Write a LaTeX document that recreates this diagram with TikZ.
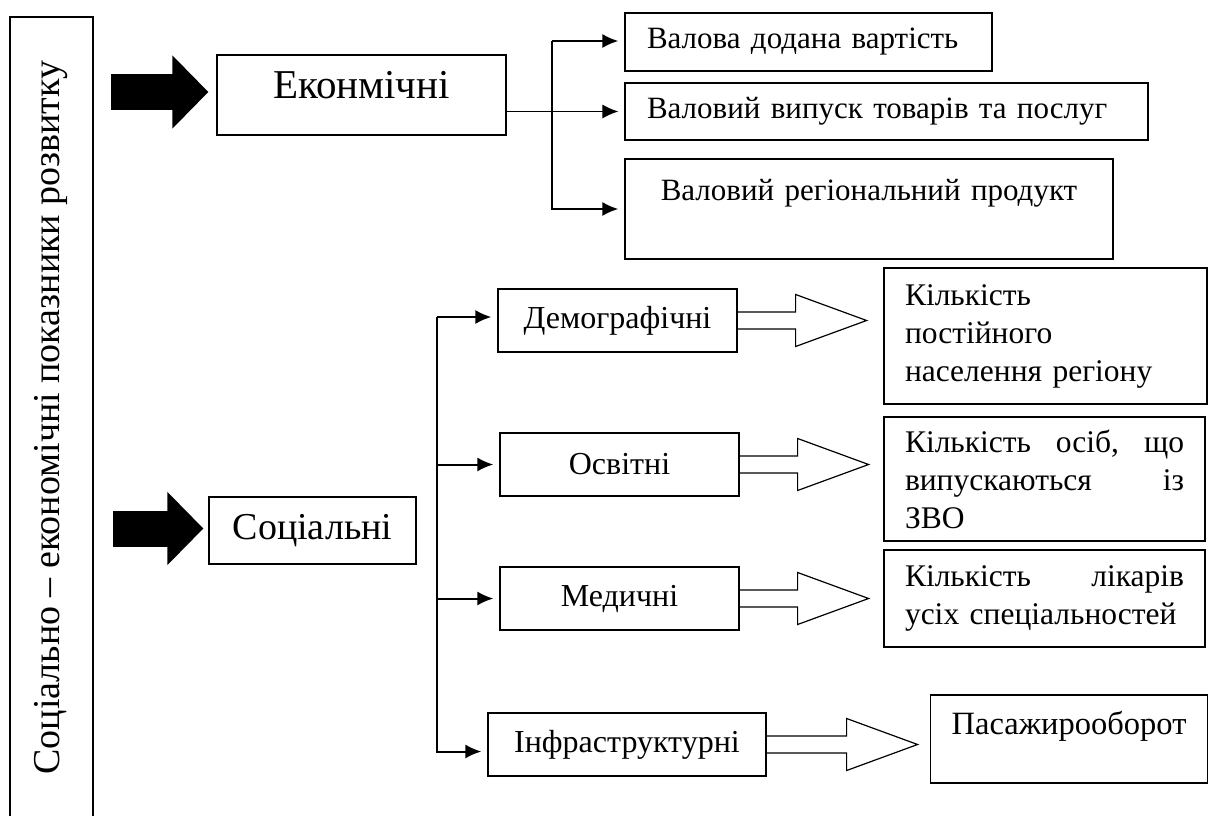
\documentclass[tikz,border=0pt]{standalone}
\usepackage{fontspec}
\setmainfont{Liberation Serif}
\usetikzlibrary{positioning,arrows.meta}

\begin{document}
\begin{tikzpicture}[x=1pt, y=-1pt,
  nodes = {draw, line width=1.2pt, inner sep=0pt},
  title/.style = {rotate=90, minimum width=801pt, minimum height=83pt,
    font=\fontsize{38}{44}\selectfont},
  sector/.style = {font=\fontsize{38}{44}\selectfont},
  indic/.style = {font=\fontsize{31}{38}\selectfont, inner xsep=22pt,
    align=left},
  group/.style = {minimum width=239pt, minimum height=63pt,
    font=\fontsize{32}{38}\selectfont},
  result/.style = {line width=1.6pt, font=\fontsize{31.5}{38}\selectfont,
    inner xsep=21pt, align=left},
  arr/.style = {line width=2pt, -{Latex[length=16pt, width=14pt]},
    shorten >=6pt},
  bigarr/.style = {line width=36pt, -{Triangle[length=36pt, width=71pt]}}
  ]
  \useasboundingbox (0,0) rectangle (1208,816);

  \node (title) [title] at (51.5,417.5)
    {Соціально – економічні показники розвитку};

  % economic block
  \node (econ) [sector, font=\fontsize{41}{46}\selectfont, text depth=20pt,
    minimum width=289pt, minimum height=80pt]
    at (361.5,95) {Еконмічні};
  \node (b1) [indic, text width=323pt, minimum height=58pt]
    at (808.5,42) {Валова додана вартість};
  \node (b2) [indic, text width=479pt, minimum height=57pt]
    at (886.5,111.5) {Валовий випуск товарів та послуг};
  \node (b3) [indic, text width=444pt, align=center, minimum height=100pt]
    at (869,209) {Валовий регіональний продукт\\ \mbox{}};

  \coordinate (etail) at (111,92);
  \draw[bigarr, shorten >=8pt] (etail) -- (etail -| econ.west);

  \coordinate (ebus) at (552,41);
  \draw[arr] (ebus) -- (ebus -| b1.west);
  \draw[arr] (ebus) |- (b3.west);
  \draw[arr, line width=1.2pt] (econ.east |- b2.west) -- (b2.west);

  % social block
  \node (soc) [sector, minimum width=207pt, minimum height=67pt]
    at (312.5,530.5) {Соціальні};
  \node (demo) [group] at (617.5,320.5) {Демографічні};
  \node (osv) [group] at (619.5,464.5) {Освітні};
  \node (med) [group] at (619.5,598.5) {Медичні};
  \node (infra) [group, minimum width=278pt] at (627,744.5) {Інфраструктурні};

  \node (k1) [result, text width=281pt, minimum height=136pt]
    at (1045.5,336) {Кількість\\ постійного\\ населення регіону};
  \node (k2) [result, text width=279pt, minimum height=124pt]
    at (1044.5,479) {Кількість\hfill осіб,\hfill що\\ випускаються\hfill із\\ ЗВО};
  \node (k3) [result, text width=279pt, minimum height=97pt]
    at (1044.5,598.5) {Кількість\hfill лікарів\\ усіх спеціальностей};
  \node (pas) [result, font=\fontsize{32.5}{32}\selectfont, align=center,
    minimum width=276pt, minimum height=88pt]
    at (1069,739) {Пасажирооборот\\ \mbox{}};

  \coordinate (stail) at (113,528.5);
  \draw[bigarr, shorten >=5pt] (stail) -- (stail -| soc.west);

  \coordinate (sbus) at (437,317);
  \draw[arr] (sbus) -- (sbus -| demo.west);
  \draw[arr] (sbus |- osv.west) -- (osv.west);
  \draw[arr] (sbus |- med.west) -- (med.west);
  \draw[arr] (sbus) |- ([yshift=-7pt]infra.west);

  \foreach \grp/\len in {demo/58, osv/58, med/58, infra/80}
    \draw[line width=1.2pt] (\grp.east) ++(0,-8.5) -- ++(\len,0) -- ++(0,-17.5)
      -- ++(71,26) -- ++(-71,26) -- ++(0,-17.5) -- ++(-\len,0);
\end{tikzpicture}
\end{document}
